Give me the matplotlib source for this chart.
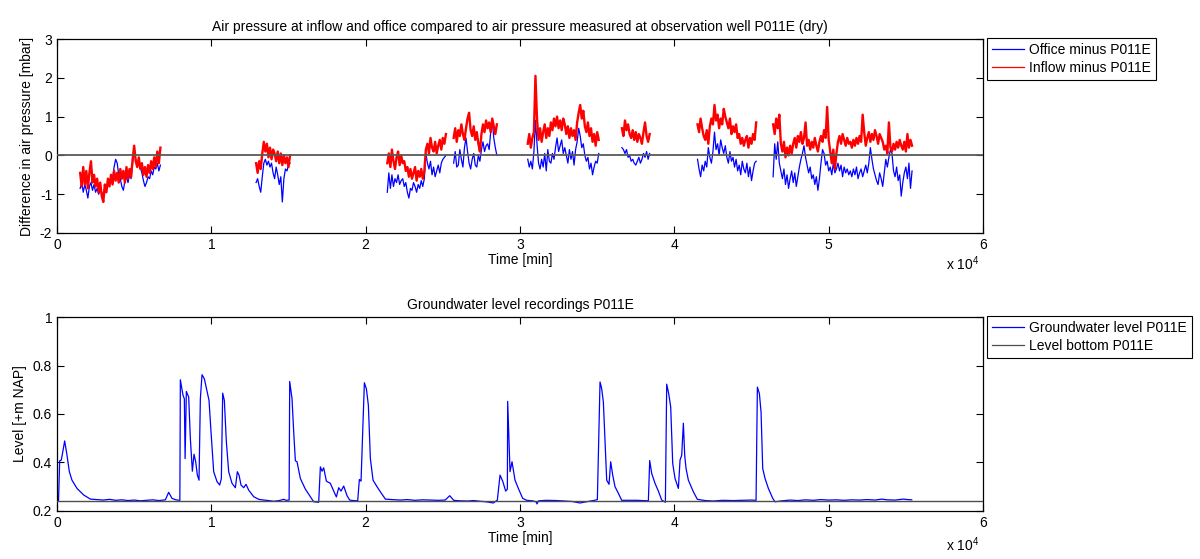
import numpy as np
import matplotlib
matplotlib.use('Agg')
import matplotlib.pyplot as plt

plt.rcParams['font.family'] = ['Liberation Sans', 'DejaVu Sans']
plt.rcParams['font.size'] = 10
plt.rcParams['mathtext.default'] = 'regular'
plt.rcParams['axes.unicode_minus'] = False

# Diferencias de presion (centesimas de mbar), una muestra cada 100 min por tramo
paso = 100
inicio_tramos = [1500, 12900, 21400, 25700, 30500, 36600, 41500, 46400]

oficina = [
    [-85, -70, -95, -75, -90, -110, -80, -70, -90, -75, -95, -85, -100, -90, -95, -105, -80, -90,
     -70, -75, -55, -60, -30, -10, -20, -50, -60, -80, -90, -65, -55, -70, -50, -60, -20, 10, -10,
     -25, -15, -30, -45, -65, -80, -70, -55, -60, -40, -50, -30, -35, -20, -40, -25],
    [-70, -60, -80, -95, -55, -20, -10, -25, -15, -30, -20, -45, -60, -30, -50, -75, -55, -120,
     -60, -35, -40, -25, -20],
    [-95, -45, -85, -50, -80, -60, -70, -50, -75, -65, -60, -80, -70, -95, -110, -85, -90, -70,
     -80, -95, -75, -85, -65, -80, -60, 5, -20, -35, -15, -50, -30, -55, -40, -25, -45, -20, -10,
     -5, 0],
    [-20, 10, -30, -25, 15, -10, -30, 20, 45, 10, -20, -35, -10, 5, -25, -30, 0, -15, 15, 35, 10,
     25, 30, 15, 60, 90, 45, 20, 0],
    [-10, -30, -15, -35, 10, 90, 30, -20, -35, -10, -30, 5, -40, 15, -15, -20, 5, -10, 20, 45, 10,
     25, 40, 5, 20, 0, -20, 15, -10, 10, -25, 15, 35, 70, 50, 20, 30, 0, -15, -5, -35, -20, -50,
     -30, -15, -20, 5],
    [20, 15, 5, 15, -5, 0, -15, -10, -20, -25, -15, -5, -20, -10, 5, -5, 10, -10, 5],
    [-10, -35, -55, -25, -40, -15, -30, 20, -5, -20, 10, 60, 15, 30, 0, 40, 20, 5, 25, -5, -20, 10,
     -15, -5, -30, -10, -40, -25, -50, -15, -35, -45, -20, -55, -30, -65, -40, -20, -15],
    [-55, 30, -10, 35, -20, -40, -60, -35, -75, -50, -85, -60, -40, -70, -45, -80, -55, -30, -10,
     5, 25, -5, -25, -45, -30, -60, -50, -75, -55, -90, -60, -20, 15, 5, -25, -15, -40, -30, -50,
     -20, -45, -35, -20, -40, -25, -55, -30, -45, -35, -50, -40, -55, -35, -50, -30, -60, -45, -35,
     -55, -40, -25, -45, -20, 20, -10, -35, -50, -65, -75, -45, -60, -80, -45, -10, -30, -5, 15, 5,
     -40, -55, -30, -65, -50, -105, -70, -45, -30, -60, -20, -85, -40],
]

entrada = [
    [-45, -80, -30, -75, -40, -85, -45, -15, -70, -50, -80, -60, -95, -70, -105, -120, -75, -95,
     -60, -80, -50, -75, -40, -65, -45, -70, -35, -60, -40, -70, -30, -60, -35, -55, -10, 25, -15,
     -30, -5, -35, -20, -50, -30, -55, -25, -45, -15, -35, -5, -30, 10, -20, 20],
    [-20, -45, -15, -35, 5, 35, 10, 30, -5, 20, -10, 15, 5, -15, 10, -20, 5, -25, 0, -20, -5, -30, 0],
    [-20, 5, -30, 15, -15, -35, -5, 10, -25, 0, -20, -15, -40, -30, -55, -35, -60, -45, -30, -65,
     -40, -55, -35, -60, -40, 15, 30, 5, 45, 20, 10, 35, 5, 25, 40, 15, 45, 30, 55],
    [45, 70, 35, 65, 50, 80, 55, 40, 70, 95, 110, 65, 50, 75, 40, 60, 30, 10, 55, 80, 60, 90, 70,
     85, 60, 95, 75, 55, 80],
    [30, 55, 20, 45, 60, 205, 95, 40, 70, 35, 60, 80, 45, 70, 50, 85, 65, 95, 75, 100, 70, 90, 65,
     95, 80, 55, 75, 45, 70, 50, 65, 40, 85, 110, 130, 95, 115, 75, 60, 85, 50, 70, 35, 55, 25, 60, 40],
    [70, 50, 90, 65, 80, 55, 45, 65, 40, 60, 35, 55, 45, 30, 60, 85, 50, 35, 55],
    [80, 60, 95, 70, 50, 40, 65, 30, 75, 95, 80, 130, 90, 105, 70, 95, 80, 120, 100, 85, 70, 95, 55,
     75, 60, 80, 45, 55, 30, 45, 25, 40, 50, 20, 45, 30, 55, 40, 85],
    [80, 55, 95, 70, 105, 30, 10, 35, -5, 20, 0, 25, 5, 30, 45, 20, 50, 35, 60, 30, 45, 85, 25, 40,
     15, 35, 20, 45, 25, 10, 35, 50, 35, 65, 45, 125, 40, 10, -20, 15, -35, 5, 35, 50, 30, 55, 40,
     25, 45, 30, 35, 20, 40, 25, 45, 30, 50, 35, 105, 60, 25, 45, 60, 35, 55, 40, 65, 50, 30, 55, 45,
     35, 15, 25, 5, 85, 20, 10, 30, 15, 35, 20, 40, 25, 15, 35, 10, 55, 20, 40, 25],
]

# Nivel freatico P011E [m NAP]
tiempo_nivel = [0, 100, 173, 280, 497, 648, 800, 972, 1296, 1728, 2160, 2600, 3000, 3400, 3800,
                4200, 4600, 5000, 5400, 5800, 6200, 6600, 7020, 7236, 7452, 7700, 7960, 7992, 8165,
                8251, 8300, 8381, 8532, 8640, 8770, 8878, 8986, 9094, 9202, 9288, 9396, 9547, 9677,
                9850, 9979, 10152, 10368, 10541, 10649, 10735, 10843, 10973, 11124, 11340, 11556,
                11686, 11794, 11923, 12096, 12247, 12420, 12744, 13068, 13400, 13700, 14040, 14400,
                14688, 14850, 15040, 15077, 15228, 15336, 15444, 15552, 15768, 16092, 16416, 16632,
                16956, 17064, 17172, 17280, 17453, 17712, 17928, 18101, 18252, 18403, 18576, 18792,
                18965, 19200, 19483, 19591, 19699, 19915, 20045, 20174, 20304, 20477, 20736, 20952,
                21276, 21700, 22248, 22700, 23200, 23700, 24200, 24700, 25150, 25445, 25704, 26100,
                26600, 27000, 27408, 27800, 28272, 28531, 28704, 28877, 29071, 29180, 29201, 29352,
                29482, 29676, 29892, 30173, 30432, 30800, 31037, 31100, 31200, 31700, 32376, 32900,
                33400, 33888, 34300, 34752, 35011, 35184, 35292, 35400, 35508, 35616, 35767, 35875,
                36005, 36156, 36372, 36588, 37000, 37560, 38000, 38316, 38402, 38532, 38748, 38964,
                39180, 39418, 39504, 39634, 39763, 39893, 40044, 40260, 40368, 40476, 40584, 40670,
                40757, 40908, 41232, 41491, 42000, 42528, 43100, 43824, 44400, 45000, 45293, 45379,
                45509, 45617, 45725, 45876, 46092, 46373, 46524, 47000, 47496, 48000, 48500, 49000,
                49500, 50000, 50500, 51000, 51500, 52000, 52500, 53000, 53436, 53800, 54300, 54840,
                55100, 55380]
nivel = [0.242, 0.243, 0.407, 0.41, 0.489, 0.43, 0.362, 0.327, 0.293, 0.266, 0.249, 0.247, 0.245,
         0.248, 0.244, 0.246, 0.243, 0.245, 0.242, 0.244, 0.246, 0.243, 0.246, 0.277, 0.252, 0.246,
         0.244, 0.741, 0.677, 0.663, 0.416, 0.693, 0.670, 0.499, 0.364, 0.434, 0.403, 0.348, 0.327,
         0.663, 0.762, 0.745, 0.707, 0.656, 0.526, 0.362, 0.321, 0.307, 0.334, 0.686, 0.656, 0.485,
         0.362, 0.314, 0.296, 0.362, 0.348, 0.307, 0.296, 0.310, 0.286, 0.259, 0.248, 0.245, 0.243,
         0.240, 0.243, 0.248, 0.244, 0.245, 0.734, 0.663, 0.526, 0.407, 0.403, 0.334, 0.290, 0.259,
         0.238, 0.236, 0.382, 0.364, 0.378, 0.323, 0.314, 0.282, 0.258, 0.296, 0.282, 0.303, 0.263,
         0.245, 0.243, 0.242, 0.330, 0.323, 0.729, 0.704, 0.636, 0.416, 0.327, 0.300, 0.279, 0.249,
         0.247, 0.245, 0.247, 0.244, 0.246, 0.245, 0.244, 0.245, 0.263, 0.244, 0.242, 0.241, 0.243,
         0.240, 0.238, 0.233, 0.245, 0.348, 0.323, 0.282, 0.290, 0.652, 0.362, 0.403, 0.327, 0.293,
         0.252, 0.244, 0.242, 0.238, 0.229, 0.242, 0.244, 0.243, 0.241, 0.239, 0.233, 0.238, 0.243,
         0.247, 0.732, 0.704, 0.649, 0.485, 0.327, 0.310, 0.403, 0.348, 0.300, 0.273, 0.244, 0.244,
         0.244, 0.243, 0.242, 0.408, 0.355, 0.314, 0.282, 0.245, 0.236, 0.723, 0.684, 0.629, 0.396,
         0.334, 0.293, 0.410, 0.430, 0.562, 0.430, 0.375, 0.327, 0.279, 0.248, 0.243, 0.241, 0.244,
         0.243, 0.244, 0.245, 0.244, 0.711, 0.684, 0.608, 0.375, 0.334, 0.293, 0.252, 0.238, 0.242,
         0.245, 0.243, 0.246, 0.244, 0.247, 0.245, 0.246, 0.244, 0.246, 0.245, 0.247, 0.245, 0.249,
         0.246, 0.245, 0.249, 0.247, 0.246]
nivel_fondo = 0.24


def tramos(inicios, valores):
    t, v = [], []
    for t0, vals in zip(inicios, valores):
        t += list(t0 + paso * np.arange(len(vals))) + [np.nan]
        v += [x / 100 for x in vals] + [np.nan]
    return t, v


t_of, v_of = tramos(inicio_tramos, oficina)
t_en, v_en = tramos(inicio_tramos, entrada)

fig = plt.figure(figsize=(12, 5.59), dpi=100)
ax1 = fig.add_axes([0.0475, 0.5832, 0.7717, 0.347])
ax2 = fig.add_axes([0.0475, 0.0859, 0.7717, 0.347])

ax1.plot(t_of, v_of, color='blue', lw=0.9, label='Office minus P011E')
ax1.plot(t_en, v_en, color='red', lw=1.7, label='Inflow minus P011E')
ax1.axhline(0, color='0.35', lw=1.3, zorder=5)
ax1.set_ylim(-2, 3)
ax1.set_yticks([-2, -1, 0, 1, 2, 3])
ax1.set_ylabel('Difference in air pressure [mbar]')
ax1.set_title('Air pressure at inflow and office compared to air pressure measured at observation well P011E (dry)',
              fontsize=10)

ax2.plot(tiempo_nivel, nivel, color='blue', lw=0.9, label='Groundwater level P011E')
ax2.axhline(nivel_fondo, color='0.3', lw=1.0, label='Level bottom P011E', zorder=5)
ax2.set_ylim(0.2, 1)
ax2.set_yticks([0.2, 0.4, 0.6, 0.8, 1.0])
ax2.set_yticklabels(['0.2', '0.4', '0.6', '0.8', '1'])
ax2.set_ylabel('Level [+m NAP]')
ax2.set_title('Groundwater level recordings P011E', fontsize=10)

for ax in (ax1, ax2):
    ax.set_xlim(0, 60000)
    ax.set_xticks(np.arange(0, 60001, 10000))
    ax.set_xticklabels(['0', '1', '2', '3', '4', '5', '6'])
    ax.set_xlabel('Time [min]', labelpad=1)
    ax.tick_params(direction='in', top=True, right=True, length=5, width=0.8)
    for s in ax.spines.values():
        s.set_linewidth(0.9)
    leg = ax.legend(loc='upper left', bbox_to_anchor=(1.004, 1.005), borderaxespad=0,
                    fancybox=False, edgecolor='black', framealpha=1, handlelength=2.3,
                    labelspacing=0.3, borderpad=0.35, handletextpad=0.4)
    leg.get_frame().set_linewidth(0.8)
    for linea in leg.get_lines():
        linea.set_linewidth(0.9)

fig.text(0.788, 1 - 270 / 559, 'x 10$^4$', fontsize=10)
fig.text(0.788, 1 - 551 / 559, 'x 10$^4$', fontsize=10)

fig.savefig('out.png', dpi=100)
